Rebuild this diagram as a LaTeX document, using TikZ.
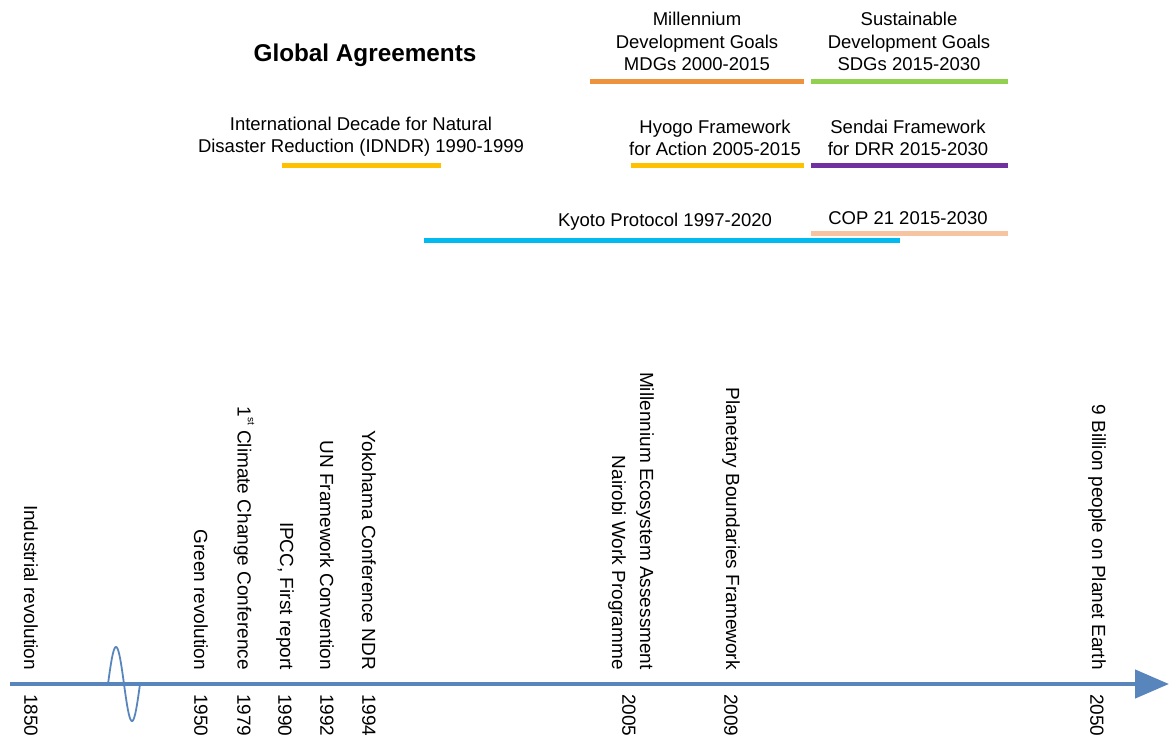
\documentclass[tikz,border=0pt]{standalone}
\usepackage{fontspec}
\setmainfont{Liberation Sans}
\usetikzlibrary{arrows.meta}
\definecolor{axisblue}{RGB}{88,134,188}
\definecolor{mdgorange}{RGB}{238,146,62}
\definecolor{sdggreen}{RGB}{146,208,80}
\definecolor{drryellow}{RGB}{255,192,0}
\definecolor{sendaipurple}{RGB}{112,48,160}
\definecolor{kyotocyan}{RGB}{0,186,240}
\definecolor{coppeach}{RGB}{246,196,160}
\newcommand{\ordsup}[1]{\raisebox{0.55em}{\fontsize{10}{10}\selectfont #1}}
\begin{document}
\begin{tikzpicture}[x=1pt,y=-1pt,
  every node/.style={inner sep=0pt,font=\fontsize{18.5}{22.5}\selectfont},
  vlab/.style={rotate=-90,anchor=east,align=right,font=\fontsize{19}{28}\selectfont},
  yearlab/.style={rotate=-90,anchor=west,font=\fontsize{19}{22.5}\selectfont},
  toplab/.style={align=center,anchor=south},
  bar/.style={line width=5pt}]
\useasboundingbox (0,0) rectangle (1169,737);

% time axis
\coordinate (axstart) at (10,684);
\coordinate (axend) at (1169,684);
\draw[axisblue,line width=4.5pt,-{Triangle[length=34pt,width=28pt]}] (axstart) -- (axend);

% scale break on the axis
\draw[axisblue,line width=1.8pt] plot[domain=0:1,samples=60,smooth]
  ({108+32*\x},{684-37*sin(360*\x)});

% events above the axis
\node[vlab] (ind)  at (31,670)  {Industrial revolution};
\node[vlab] (grn)  at (201,670) {Green revolution};
\node[vlab] (ccc)  at (244,670) {1\ordsup{st} Climate Change Conference};
\node[vlab] (ipcc) at (285,670) {IPCC, First report};
\node[vlab] (unfc) at (327,670) {UN Framework Convention};
\node[vlab] (yok)  at (369,670) {Yokohama Conference NDR};
\node[vlab] (mea)  at (631,670) {Millennium Ecosystem Assessment\\Nairobi Work Programme};
\node[vlab] (pbf)  at (731,670) {Planetary Boundaries Framework};
\node[vlab] (bil)  at (1097,670) {9 Billion people on Planet Earth};

% years below the axis
\node[yearlab] (y1850) at (31,694)   {1850};
\node[yearlab] (y1950) at (201,694)  {1950};
\node[yearlab] (y1979) at (244,694)  {1979};
\node[yearlab] (y1990) at (285,694)  {1990};
\node[yearlab] (y1992) at (327,694)  {1992};
\node[yearlab] (y1994) at (369,694)  {1994};
\node[yearlab] (y2005) at (629,694)  {2005};
\node[yearlab] (y2009) at (731,694)  {2009};
\node[yearlab] (y2050) at (1097,694) {2050};

% global agreements
\node[font=\fontsize{24.3}{28}\selectfont\bfseries] (title) at (365,55) {Global Agreements};

\node[toplab] (mdg) at (697,71) {Millennium\\Development Goals\\MDGs 2000-2015};
\coordinate (mdgA) at (590,81); \coordinate (mdgB) at (804,81);
\draw[bar,mdgorange] (mdgA) -- (mdgB);

\node[toplab] (sdg) at (909,71) {Sustainable\\Development Goals\\SDGs 2015-2030};
\coordinate (sdgA) at (811,81); \coordinate (sdgB) at (1008,81);
\draw[bar,sdggreen] (sdgA) -- (sdgB);

\node[toplab] (idndr) at (361,157) {International Decade for Natural\\Disaster Reduction (IDNDR) 1990-1999};
\coordinate (idA) at (282,165); \coordinate (idB) at (441,165);
\draw[bar,drryellow] (idA) -- (idB);

\node[toplab] (hyogo) at (715,156) {Hyogo Framework\\for Action 2005-2015};
\coordinate (hyA) at (631,165); \coordinate (hyB) at (804,165);
\draw[bar,drryellow] (hyA) -- (hyB);

\node[toplab] (sendai) at (908,156) {Sendai Framework\\for DRR 2015-2030};
\coordinate (seA) at (811,165); \coordinate (seB) at (1008,165);
\draw[bar,sendaipurple] (seA) -- (seB);

\node[toplab] (kyoto) at (665,231) {Kyoto Protocol 1997-2020};
\coordinate (kyA) at (424,240); \coordinate (kyB) at (900,240);
\draw[bar,kyotocyan] (kyA) -- (kyB);

\node[toplab] (cop) at (908,225) {COP 21 2015-2030};
\coordinate (coA) at (811,233); \coordinate (coB) at (1008,233);
\draw[bar,coppeach] (coA) -- (coB);
\end{tikzpicture}
\end{document}
